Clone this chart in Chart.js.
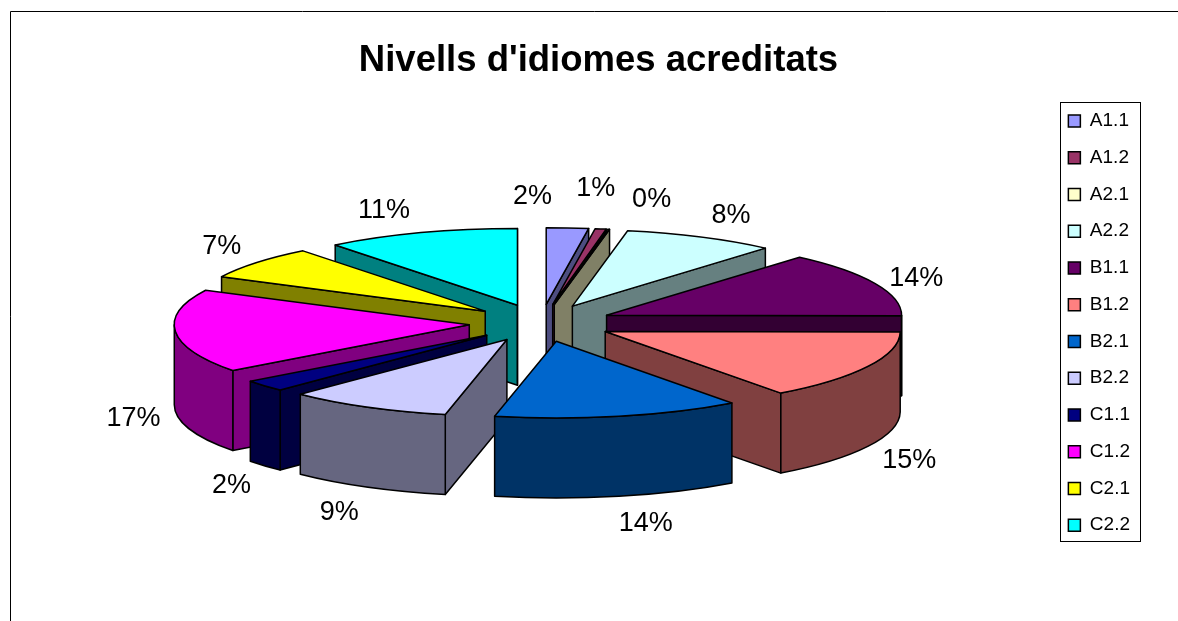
<!DOCTYPE html>
<html><head><meta charset="utf-8">
<style>html,body{margin:0;padding:0;background:#fff}#w{position:relative;width:1178px;height:621px}</style>
<script src="https://cdn.jsdelivr.net/npm/chart.js@4"></script></head>
<body><div id="w"><canvas id="c"></canvas></div>
<script>
const categories=['A1.1','A1.2','A2.1','A2.2','B1.1','B1.2','B2.1','B2.2','C1.1','C1.2','C2.1','C2.2'];
const shares=[2.3,0.6,0.1,8.35,13.75,14.75,13.5,9.0,2.45,17.6,7.0,10.6];
const percentLabels=['2%','1%','0%','8%','14%','15%','14%','9%','2%','17%','7%','11%'];
const topColors=['#9999FF','#993366','#FFFFCC','#CCFFFF','#660066','#FF8080','#0066CC','#CCCCFF','#000080','#FF00FF','#FFFF00','#00FFFF'];
const wallColors=['#4D4D80','#4D1A33','#808066','#668080','#330033','#804040','#003366','#666680','#000040','#800080','#808000','#008080'];
const labelNudges=[[-35,-31],[-5,-40],[43,-30],[30,-22],[41,-5],[41,94],[27,107],[-28,106],[-33,100],[-42,87],[-35,-16],[-37,-22]];

const CX=541,CY=323,R=295,K=0.26,DEPTH=80;
const FONT='"Liberation Sans", Arial, sans-serif';

function face(ctx,color,build){ctx.beginPath();build();ctx.closePath();ctx.fillStyle=color;ctx.fill();ctx.stroke();}

const pie3d={
  id:'pie3d',
  beforeDraw(chart){
    const ctx=chart.ctx;ctx.save();
    ctx.strokeStyle='#000';ctx.lineWidth=1;
    ctx.beginPath();ctx.moveTo(10.5,621);ctx.lineTo(10.5,11.5);ctx.lineTo(1178,11.5);ctx.stroke();
    ctx.restore();
  },
  beforeDatasetsDraw(chart){
    const ctx=chart.ctx,arcs=chart.getDatasetMeta(0).data;
    const order=arcs.map((a,i)=>i).sort((p,q)=>{
      const m=a=>Math.sin((a.startAngle+a.endAngle)/2);
      return m(arcs[p])-m(arcs[q]);
    });
    ctx.save();ctx.lineWidth=1.5;ctx.strokeStyle='#000';ctx.lineJoin='round';
    for(const i of order){
      const a=arcs[i],s=a.startAngle,e=a.endAngle,mid=(s+e)/2,off=a.options.offset;
      const ox=CX+off*Math.cos(mid),oy=CY+K*off*Math.sin(mid);
      const pt=t=>[ox+R*Math.cos(t),oy+K*R*Math.sin(t)];
      const wall=t=>{const p=pt(t);face(ctx,wallColors[i],()=>{
        ctx.moveTo(ox,oy);ctx.lineTo(p[0],p[1]);ctx.lineTo(p[0],p[1]+DEPTH);ctx.lineTo(ox,oy+DEPTH);});};
      if(Math.cos(s)<0)wall(s);
      if(Math.cos(e)>0)wall(e);
      const norm=t=>{let v=t;while(v<-Math.PI/2-1e-9)v+=2*Math.PI;return v;};
      const n0=norm(s),n1=n0+(e-s);
      const f0=Math.max(n0,0),f1=Math.min(n1,Math.PI);
      if(f1>f0)face(ctx,wallColors[i],()=>{
        ctx.ellipse(ox,oy,R,K*R,0,f0,f1);
        ctx.ellipse(ox,oy+DEPTH,R,K*R,0,f1,f0,true);
      });
      face(ctx,topColors[i],()=>{ctx.moveTo(ox,oy);ctx.ellipse(ox,oy,R,K*R,0,s,e);});
    }
    ctx.restore();
    return false;
  },
  afterDraw(chart){
    const ctx=chart.ctx,arcs=chart.getDatasetMeta(0).data;
    ctx.save();
    ctx.fillStyle='#000';ctx.font='27px '+FONT;ctx.textAlign='center';ctx.textBaseline='middle';
    arcs.forEach((a,i)=>{
      const mid=(a.startAngle+a.endAngle)/2,r=R+a.options.offset;
      ctx.fillText(percentLabels[i],CX+r*Math.cos(mid)+labelNudges[i][0],CY+K*r*Math.sin(mid)+labelNudges[i][1]);
    });
    const b=chart.legend.legendHitBoxes;
    const top=b[0].top-9,bot=b[b.length-1].top+b[b.length-1].height+7;
    const left=b[0].left-8,right=left+80;
    ctx.strokeStyle='#000';ctx.lineWidth=1;
    ctx.strokeRect(Math.round(left)+.5,Math.round(top)+.5,Math.round(right-left),Math.round(bot-top));
    ctx.restore();
  }
};

new Chart(document.getElementById('c'),{
  type:'pie',
  data:{labels:categories,datasets:[{data:shares,backgroundColor:topColors,borderColor:'#000',borderWidth:1.5,offset:72}]},
  options:{
    responsive:true,maintainAspectRatio:false,animation:false,
    layout:{padding:{left:57,right:38,top:25,bottom:0}},
    plugins:{
      tooltip:{enabled:false},
      title:{display:true,text:"Nivells d'idiomes acreditats",color:'#000',
        font:{family:FONT,size:36.5,weight:'bold'},padding:{top:14,bottom:24}},
      legend:{position:'right',labels:{color:'#000',boxWidth:12,boxHeight:12,padding:17.75,font:{family:FONT,size:19}}}
    }
  },
  plugins:[pie3d]
});
</script></body></html>
